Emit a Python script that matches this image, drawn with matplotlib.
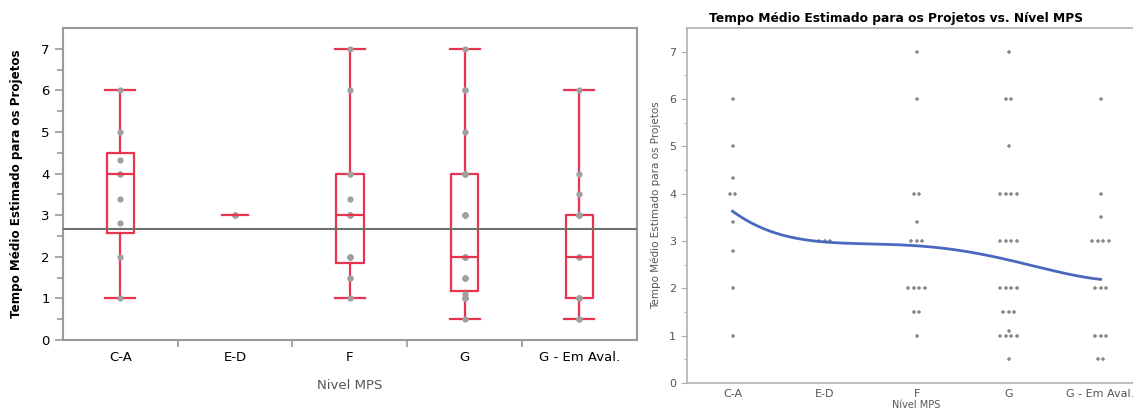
import numpy as np
import matplotlib.pyplot as plt

# Tempo médio estimado para os projetos, agrupado por nível MPS
niveis = ["C-A", "E-D", "F", "G", "G - Em Aval."]

tempo_ca = [1, 2, 2.8, 3.4, 4, 4, 4.33, 5, 6]
tempo_ed = [3, 3, 3]
tempo_f = [7, 6, 4, 4, 3.4, 3, 3, 3, 2, 2, 2, 2, 1.5, 1.5, 1]
tempo_g = [7, 6, 6, 5, 4, 4, 4, 4, 3, 3, 3, 3, 2, 2, 2, 2,
           1.5, 1.5, 1.5, 1.1, 1, 1, 1, 1, 0.5]
tempo_gea = [6, 4, 3.5, 3, 3, 3, 3, 2, 2, 2, 1, 1, 1, 0.5, 0.5]
grupos = [tempo_ca, tempo_ed, tempo_f, tempo_g, tempo_gea]

# quartis e bigodes dos boxplots
q1 = [2.58, 3, 1.85, 1.17, 1]
mediana = [4, 3, 3, 2, 2]
q3 = [4.5, 3, 4, 4, 3]
bigode_inf = [1, 3, 1, 0.5, 0.5]
bigode_sup = [6, 3, 7, 7, 6]
media_geral = 2.67

# curva suavizada (painel da direita), valor em cada nível
curva = [3.63, 2.98, 2.9, 2.6, 2.19]

vermelho = "#e8344e"
cinza_txt = "#555555"

fig = plt.figure(figsize=(11.33, 4.13), dpi=100)

# ---------- painel esquerdo: boxplots ----------
ax1 = fig.add_axes([0.0556, 0.177, 0.5064, 0.755])
x = np.arange(len(niveis))

stats = []
for i in range(len(niveis)):
    stats.append(dict(med=mediana[i], q1=q1[i], q3=q3[i],
                      whislo=bigode_inf[i], whishi=bigode_sup[i], fliers=[]))

for i, s in enumerate(stats):
    if s["q1"] == s["q3"]:
        # grupo com valor único: apenas um traço
        ax1.plot([i - 0.11, i + 0.11], [s["med"]] * 2, color=vermelho, lw=1.6, zorder=3)
        continue
    ax1.bxp([s], positions=[i], widths=0.24, showfliers=False,
            boxprops=dict(color=vermelho, lw=1.6),
            medianprops=dict(color=vermelho, lw=1.6),
            whiskerprops=dict(color=vermelho, lw=1.6),
            capprops=dict(color=vermelho, lw=1.6),
            capwidths=0.26, manage_ticks=False)

for i, vals in enumerate(grupos):
    ax1.plot([i] * len(vals), vals, "o", color="#a0a0a0", ms=4.5, mec="none", zorder=2)

ax1.axhline(media_geral, color="#707070", lw=1.5, zorder=4)

ax1.set_xlim(-0.5, 4.5)
ax1.set_ylim(0, 7.5)
ax1.set_yticks(range(8))
ax1.set_yticks(np.arange(0.5, 7.5, 1), minor=True)
ax1.set_xticks(x)
ax1.set_xticklabels(niveis, fontsize=9.5)
ax1.tick_params(axis="x", length=0, pad=8)
ax1.set_xticks(np.arange(0.5, 4.5, 1), minor=True)
ax1.tick_params(axis="x", which="minor", length=5, color="#999999", width=1.2)
ax1.tick_params(axis="y", which="both", color="#999999", width=1.2, labelsize=9.5)
ax1.tick_params(axis="y", which="major", length=6)
ax1.tick_params(axis="y", which="minor", length=4)
for sp in ax1.spines.values():
    sp.set_color("#9a9a9a")
    sp.set_linewidth(1.5)
ax1.set_ylabel("Tempo Médio Estimado para os Projetos", fontsize=8.6,
               fontweight="bold", labelpad=13)
ax1.set_xlabel("Nivel MPS", fontsize=9.5, color=cinza_txt, labelpad=11)

# ---------- painel direito: dispersão com curva suavizada ----------
ax2 = fig.add_axes([0.606, 0.0726, 0.406, 0.8594])

for i, vals in enumerate(grupos):
    vals = np.array(vals)
    for v in np.unique(vals):
        n = np.sum(vals == v)
        desloc = (np.arange(n) - (n - 1) / 2) * 0.06
        ax2.plot(i + desloc, [v] * n, "+", color="#8a8a8a", ms=3.5, mew=1.1)

xs = np.linspace(0, 4, 200)
coef = np.polyfit(x, curva, 4)
ax2.plot(xs, np.polyval(coef, xs), color="#4a68c0", lw=2)

ax2.set_xlim(-0.5, 4.5)
ax2.set_ylim(0, 7.5)
ax2.set_yticks(range(8))
ax2.set_yticks(np.arange(0.5, 7.5, 1), minor=True)
ax2.set_xticks(x)
ax2.set_xticklabels(niveis, fontsize=8, color=cinza_txt)
ax2.tick_params(axis="x", length=0, pad=4)
ax2.tick_params(axis="y", which="both", color="#aaaaaa", labelsize=8, labelcolor=cinza_txt)
ax2.tick_params(axis="y", which="major", length=4)
ax2.tick_params(axis="y", which="minor", length=2)
ax2.spines["right"].set_visible(False)
for nome in ["left", "bottom", "top"]:
    ax2.spines[nome].set_color("#b0b0b0")
    ax2.spines[nome].set_linewidth(1.2)
ax2.set_ylabel("Tempo Médio Estimado para os Projetos", fontsize=7.5,
               color=cinza_txt, labelpad=6)
ax2.set_xlabel("Nível MPS", fontsize=7, color=cinza_txt, labelpad=1)
fig.text(0.791, 0.955, "Tempo Médio Estimado para os Projetos vs. Nível MPS",
         fontsize=8.8, fontweight="bold", ha="center", va="center")

fig.savefig("out.png", dpi=100)
